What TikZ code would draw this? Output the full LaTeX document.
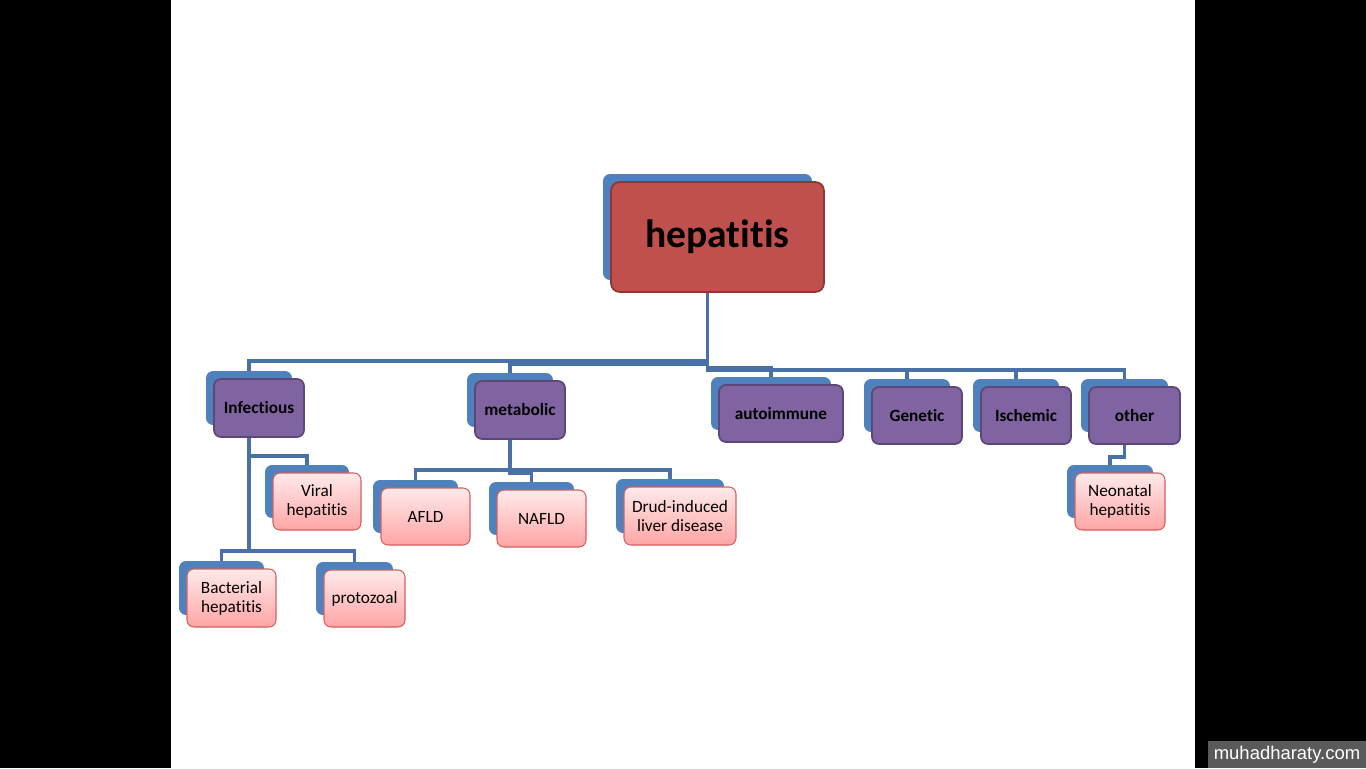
\documentclass[tikz,border=0pt]{standalone}
\usepackage{fontspec}
\setmainfont{Carlito}[Ligatures=NoCommon]
\newfontfamily\wmfont{Liberation Sans}
\usetikzlibrary{calc,backgrounds}
\definecolor{backblue}{RGB}{79,129,189}
\definecolor{linkblue}{RGB}{74,112,168}
\definecolor{hepred}{RGB}{192,80,77}
\definecolor{hepedge}{RGB}{140,56,54}
\definecolor{catpurple}{RGB}{128,100,162}
\definecolor{catedge}{RGB}{92,71,118}
\definecolor{subtop}{RGB}{255,234,234}
\definecolor{subbot}{RGB}{255,165,165}
\definecolor{subedge}{RGB}{214,96,96}
\definecolor{wmgray}{RGB}{90,90,90}
\def\pu{0.02cm}
\tikzset{
  backbox/.style={fill=backblue, rounded corners=4pt, inner sep=0pt},
  mainbox/.style={fill=hepred, draw=hepedge, line width=1pt, rounded corners=5pt,
    font=\fontsize{22.5}{26}\selectfont\bfseries},
  catbox/.style={fill=catpurple, draw=catedge, line width=1pt, rounded corners=4pt,
    font=\fontsize{9.8}{11}\selectfont\bfseries},
  subbox/.style={top color=subtop, bottom color=subbot, draw=subedge, line width=.6pt,
    rounded corners=4pt, align=center, font=\fontsize{9.8}{10.8}\selectfont},
  link/.style={draw=linkblue, line width=1.8pt}
}
% front box at #2, size #3 x #4 (px), with its blue copy #1b behind it
\newcommand{\twobox}[6]{%
  \node[backbox, minimum width=(#3-4)*\pu, minimum height=(#4-4)*\pu] (#1b) at ($(#2)+(-10,-10)$) {};
  \node[#5, minimum width=#3*\pu, minimum height=#4*\pu] (#1) at (#2) {#6};}
\begin{document}
\begin{tikzpicture}[x=0.02cm,y=-0.02cm]
\useasboundingbox (0,0) rectangle (1366,768);
\twobox{hep}{717.5,237}{213}{110}{mainbox}{hepatitis}
%%%% causes
\twobox{inf}{259,408}{90}{58}{catbox}{Infectious}
\twobox{met}{520,410}{90}{58}{catbox}{metabolic}
\twobox{aut}{781,413.5}{124}{57}{catbox}{autoimmune}
\twobox{gen}{917,415.5}{90}{57}{catbox}{Genetic}
\twobox{isc}{1026,415.5}{90}{57}{catbox}{Ischemic}
\twobox{oth}{1134.5,415.5}{91}{57}{catbox}{other}
%%%% sub-types
\twobox{vir}{317,501.5}{88}{57}{subbox}{Viral\\hepatitis}
\twobox{bac}{231.5,598}{89}{58}{subbox}{Bacterial\\hepatitis}
\twobox{pro}{364.5,598.5}{81}{57}{subbox}{protozoal}
\twobox{afld}{425.5,516.5}{89}{57}{subbox}{AFLD}
\twobox{nafld}{541.5,518.5}{89}{57}{subbox}{NAFLD}
\twobox{drug}{680,516}{112}{58}{subbox}{Drud-induced\\liver disease}
\twobox{neo}{1120,501.5}{90}{57}{subbox}{Neonatal\\hepatitis}
\node[fill=wmgray, text=white, inner sep=0pt, minimum width=158*\pu, minimum height=27*\pu,
  font=\wmfont\fontsize{10.5}{13}\selectfont] (wm) at (1287,754.5) {muhadharaty.com};
\begin{pgfonlayer}{background}
\fill[black] (0,0) rectangle (1366,768);
\fill[white] (171,0) rectangle (1195,768);
\foreach \c/\y in {infb/361,metb/364,autb/368,genb/370,iscb/370,othb/370}
  \draw[link] (hepb.south) |- (\c.north |- 0,\y) -- (\c.north);
\foreach \c/\y in {virb/456,bacb/551,prob/551}
  \draw[link] (infb.south) |- (\c.north |- 0,\y) -- (\c.north);
\foreach \c/\y in {afldb/470,nafldb/473,drugb/470}
  \draw[link] (metb.south) |- (\c.north |- 0,\y) -- (\c.north);
\draw[link] (othb.south) |- (neob.north |- 0,457) -- (neob.north);
\end{pgfonlayer}
\end{tikzpicture}
\end{document}
